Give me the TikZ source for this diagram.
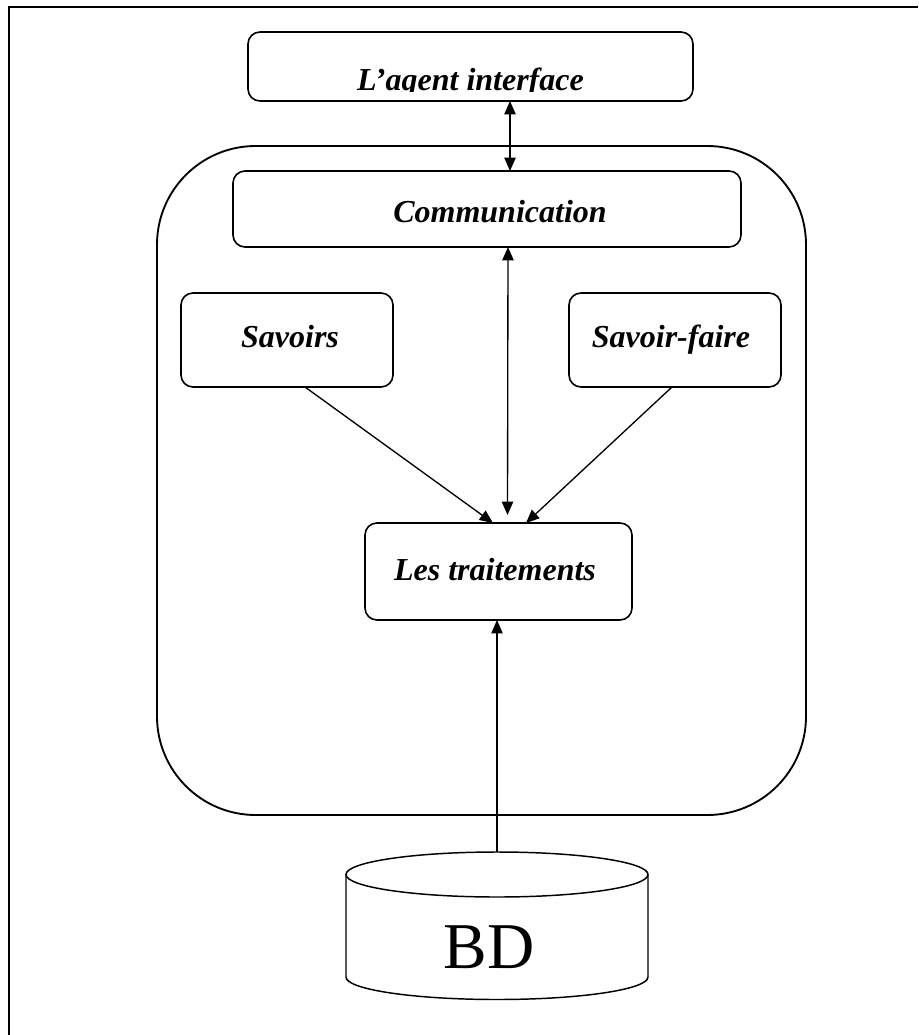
\documentclass[tikz,border=0pt]{standalone}
\usepackage{fontspec}
\setmainfont{Liberation Serif}
\usetikzlibrary{arrows.meta,calc}
\begin{document}
\begin{tikzpicture}[x=0.75pt,y=-0.75pt,
  box/.style={draw, line width=1.2pt, rounded corners=9pt, inner sep=0pt, outer sep=0pt},
  lbl/.style={font=\fontsize{24}{29}\selectfont\bfseries\itshape, inner sep=0pt, anchor=base},
  link/.style={line width=1pt, -{Triangle[length=10pt,width=8.5pt]}},
  dlink/.style={line width=1pt, {Triangle[length=10pt,width=8.5pt]}-{Triangle[length=10pt,width=8.5pt]}}]
\useasboundingbox (0,0) rectangle (918,1035);

% page frame (top and left rules)
\draw[line width=1.9pt] (9,1035) -- (9,7) -- (918,7);

% agent body
\node[box, line width=1.4pt, rounded corners=74pt, minimum width=486.75pt, minimum height=501.75pt] (body) at (481.5,480.5) {};

% boxes
\node[box, minimum width=333.75pt, minimum height=51.75pt] (agent) at (470.5,66.5) {};
\node[box, minimum width=381pt, minimum height=57pt] (comm) at (487,209) {};
\node[box, minimum width=159pt, minimum height=70.5pt] (sav) at (287,340) {};
\node[box, minimum width=159pt, minimum height=70.5pt] (savf) at (675,340) {};
\node[box, minimum width=200.25pt, minimum height=72.75pt] (trait) at (498.5,571.5) {};

% labels
\begin{scope}
  \clip (250,34) rectangle (691,91);
  \node[lbl] (agent-t) at (470.5,90) {L’agent interface};
\end{scope}
\node[lbl] (comm-t) at (500,222) {Communication};
\node[lbl] (sav-t) at (290,347) {Savoirs};
\node[lbl] (savf-t) at (671,347) {Savoir-faire};
\node[lbl] (trait-t) at (495,580) {Les traitements};

% database cylinder
\draw[line width=1.1pt] (497,874.5) ellipse [x radius=151, y radius=22.5];
\draw[line width=1.1pt] (346,874.5) -- (346,977) arc [start angle=180, end angle=0, x radius=151, y radius=22.5] -- (648,874.5);
\coordinate (bdtop) at (497,852);
\node[font=\fontsize{49}{58}\selectfont, inner sep=0pt, anchor=base] (bd) at (489,968) {BD};

% connectors
\draw[dlink] ($(agent.south)+(39.5,0)$) -- ($(comm.north)+(23,0)$);
\draw[dlink] ($(comm.south)+(21,0)$) -- ($(trait.north)+(9,-8)$);
\draw[link] ($(sav.south)+(18,0)$) -- ($(trait.north)+(-5.5,0)$);
\draw[link] ($(savf.south)+(-3,0)$) -- ($(trait.north)+(27.5,0)$);
\draw[link] (bdtop) -- ($(trait.south)+(-1.5,0)$);
\end{tikzpicture}
\end{document}
